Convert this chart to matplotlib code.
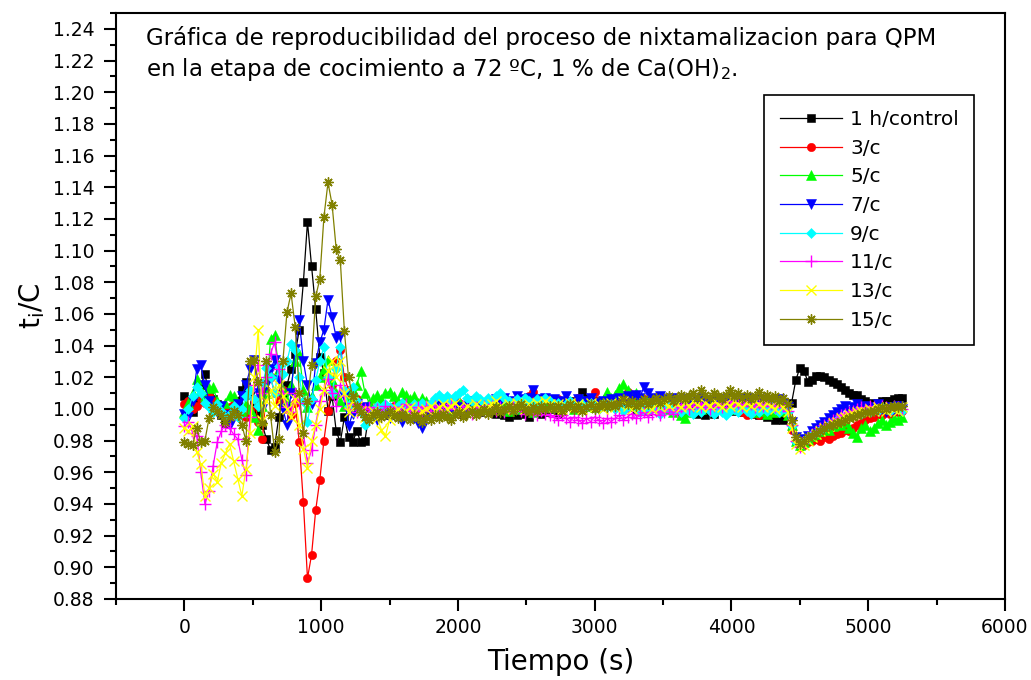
import numpy as np
import matplotlib
matplotlib.use("Agg")
import matplotlib.pyplot as plt
from matplotlib.ticker import MultipleLocator

plt.rcParams['font.family'] = ['DejaVu Sans']
plt.rcParams['mathtext.fontset'] = 'dejavusans'

# sampling time (s): one reading every 30 s
tiempo = np.arange(0, 5260, 30)

control_1h = [
    1.008, 1.000, 0.998, 1.005, 1.015, 1.022, 1.010, 1.006, 1.003, 0.996,
    0.991, 0.998, 1.000, 1.005, 1.012, 1.017, 1.009, 1.003, 0.998, 0.990,
    0.981, 0.974, 0.976, 0.995, 1.010, 1.015, 1.025, 1.035, 1.050, 1.080,
    1.118, 1.090, 1.063, 1.033, 1.023, 0.999, 1.008, 0.986, 0.979, 0.995,
    0.982, 0.979, 0.986, 0.979, 0.980,
    0.997, 1.000, 0.998, 1.002, 0.999, 0.996, 1.001, 1.003, 0.999, 0.997, 1.000, 1.002, 0.998, 0.995, 0.999,
    1.001, 0.998, 1.000, 1.003, 1.001, 0.999, 1.002, 1.000, 0.997, 1.001, 1.003, 1.000, 0.998, 1.001, 1.002,
    0.999, 0.997, 1.000, 0.996, 0.995, 0.998, 0.996, 1.000, 0.997, 0.995, 0.999, 1.001, 0.997, 0.998, 1.000,
    1.002, 0.997, 1.000, 1.003, 1.005, 1.001, 1.004, 1.011, 1.006, 1.003, 1.005, 1.002, 1.004, 1.006, 1.003,
    1.004, 1.002, 1.005, 1.001, 1.003, 1.000, 1.004, 1.002, 0.999, 1.003, 1.001, 1.004, 1.002, 1.000, 1.003,
    1.001, 0.999, 1.002, 0.998, 1.000, 0.997, 0.999, 0.996, 1.000, 0.997, 1.001, 1.003, 1.000, 1.002, 0.999,
    1.001, 0.998, 1.000, 0.997, 0.999, 0.996, 0.998, 0.995, 0.997, 0.993, 0.995, 0.993, 0.996, 1.004, 1.018,
    1.026, 1.024, 1.017, 1.018, 1.021, 1.021, 1.020, 1.018, 1.017, 1.016, 1.014, 1.012, 1.010, 1.009, 1.009,
    1.006, 1.005, 1.004, 1.003, 1.004, 1.005, 1.005, 1.005, 1.006, 1.007, 1.007,
]

serie_3c = [
    1.003, 1.005, 1.000, 1.002, 1.006, 1.004, 1.008, 1.005, 1.002, 1.000,
    0.998, 1.001, 1.003, 0.999, 0.996, 0.995, 1.000, 1.006, 0.992, 0.981,
    1.012, 1.020, 1.010, 1.005, 1.012, 1.000, 0.996, 1.004, 0.979, 0.941,
    0.893, 0.908, 0.936, 0.955, 0.980, 0.999, 1.015, 1.030, 1.037, 1.020,
    1.012, 1.003, 1.006, 1.001, 0.999,
    1.002, 0.999, 1.001, 1.003, 0.998, 1.000, 1.002, 0.999, 0.997, 1.001, 1.003, 1.000, 0.998, 1.002, 1.000,
    0.999, 1.002, 1.000, 1.003, 1.001, 0.999, 1.002, 1.004, 1.001, 0.999, 1.002, 1.000, 1.003, 1.001, 1.004,
    1.002, 1.005, 1.003, 1.006, 1.004, 1.002, 1.005, 1.003, 1.006, 1.008, 1.011, 1.006, 1.003, 1.005, 1.002,
    1.004, 1.006, 1.003, 1.005, 1.002, 1.004, 1.007, 1.005, 1.003, 1.006, 1.011, 1.005, 1.003, 1.004, 1.002,
    1.005, 1.003, 1.006, 1.011, 1.005, 1.002, 1.004, 1.006, 1.003, 1.005, 1.002, 1.004, 1.006, 1.003, 1.005,
    1.003, 1.005, 1.002, 1.004, 1.001, 1.003, 1.005, 1.002, 1.004, 1.006, 1.003, 1.001, 1.004, 1.002, 1.000,
    0.999, 0.998, 0.996, 0.997, 0.999, 0.996, 0.998, 1.000, 0.998, 1.001, 0.999, 1.002, 0.997, 0.987, 0.979,
    0.976, 0.977, 0.979, 0.980, 0.981, 0.980, 0.982, 0.981, 0.983, 0.984, 0.985, 0.987, 0.986, 0.988, 0.990,
    0.991, 0.993, 0.994, 0.995, 0.997, 0.996, 0.998, 0.997, 0.999, 0.998, 0.999,
]

serie_5c = [
    0.998, 1.004, 1.010, 1.019, 1.012, 1.008, 1.013, 1.014, 1.005, 1.000,
    1.004, 1.009, 1.008, 1.002, 0.998, 1.003, 1.000, 0.995, 0.987, 1.002,
    1.010, 1.044, 1.047, 1.025, 1.012, 1.005, 1.015, 1.030, 1.035, 1.012,
    1.001, 1.008, 1.015, 1.020, 1.025, 1.031, 1.018, 1.010, 1.005, 1.002,
    1.008, 1.012, 1.015, 1.024, 1.010,
    1.004, 1.007, 1.009, 1.006, 1.010, 1.011, 1.008, 1.005, 1.011, 1.009, 1.006, 1.008, 1.004, 1.007, 1.005,
    1.003, 1.000, 1.002, 1.004, 1.001, 0.999, 1.003, 1.005, 1.002, 1.000, 1.003, 1.001, 1.004, 1.002, 1.000,
    1.002, 1.004, 1.001, 1.003, 0.999, 1.002, 1.000, 1.003, 1.005, 1.001, 0.998, 1.002, 1.004, 1.001, 1.003,
    1.001, 1.004, 1.002, 1.005, 1.003, 1.000, 1.004, 1.006, 1.002, 1.004, 1.001, 1.005, 1.003, 1.011, 1.007,
    1.009, 1.013, 1.016, 1.012, 1.008, 1.010, 1.006, 1.004, 1.007, 1.003, 1.005, 1.002, 1.004, 1.000, 0.998,
    1.000, 0.996, 0.994, 0.998, 1.001, 1.003, 1.000, 1.002, 1.004, 1.001, 1.003, 1.005, 1.002, 1.000, 1.003,
    1.004, 1.001, 1.003, 1.000, 0.998, 1.001, 0.999, 0.997, 1.000, 0.998, 1.001, 0.999, 0.996, 0.990, 0.980,
    0.977, 0.979, 0.981, 0.983, 0.984, 0.986, 0.988, 0.987, 0.989, 0.991, 0.990, 0.992, 0.988, 0.985, 0.982,
    0.988, 0.990, 0.986, 0.988, 0.991, 0.993, 0.990, 0.992, 0.994, 0.993, 0.995,
]

serie_7c = [
    0.997, 0.995, 1.005, 1.025, 1.028, 1.015, 1.005, 1.001, 0.998, 1.002,
    0.996, 0.990, 0.997, 1.003, 1.008, 1.015, 1.025, 1.031, 1.010, 1.000,
    1.015, 1.025, 1.031, 1.018, 1.000, 0.990, 1.010, 1.038, 1.056, 1.030,
    1.015, 1.003, 1.029, 1.042, 1.050, 1.069, 1.058, 1.045, 1.046, 1.008,
    0.989, 0.997, 1.003, 0.998, 1.001,
    0.995, 0.998, 0.993, 0.996, 0.999, 0.994, 0.997, 0.995, 0.992, 0.996, 0.998, 0.994, 0.991, 0.988, 0.995,
    0.998, 1.001, 1.003, 0.999, 1.002, 1.000, 1.004, 1.001, 0.998, 1.002, 1.005, 1.003, 1.000, 1.002, 1.004,
    1.003, 1.006, 1.004, 1.007, 1.005, 1.003, 1.008, 1.006, 1.004, 1.007, 1.012, 1.006, 1.004, 1.007, 1.005,
    1.006, 1.003, 1.005, 1.008, 1.004, 1.002, 1.006, 1.003, 1.005, 1.007, 1.004, 1.002, 1.005, 1.003, 1.006,
    1.004, 1.007, 1.005, 1.008, 1.006, 1.009, 1.007, 1.014, 1.010, 1.007, 1.005, 1.008, 1.006, 1.004, 1.007,
    1.005, 1.003, 1.006, 1.004, 1.002, 1.005, 1.007, 1.004, 1.002, 1.005, 1.003, 1.006, 1.004, 1.007, 1.005,
    1.006, 1.004, 1.007, 1.005, 1.003, 1.006, 1.004, 1.002, 1.005, 1.003, 1.006, 1.004, 1.001, 0.992, 0.982,
    0.978, 0.981, 0.983, 0.986, 0.988, 0.990, 0.992, 0.994, 0.996, 0.998, 1.000, 1.002, 0.999, 1.001, 1.003,
    1.000, 1.002, 0.999, 1.001, 1.003, 1.000, 0.998, 1.001, 0.999, 1.002, 1.000,
]

serie_9c = [
    0.994, 1.000, 1.008, 1.014, 1.010, 1.004, 1.001, 0.998, 1.003, 0.999,
    0.995, 0.997, 1.002, 0.995, 1.000, 1.008, 1.012, 1.006, 1.002, 1.015,
    1.026, 1.020, 1.010, 1.027, 1.022, 1.030, 1.041, 1.037, 1.020, 1.005,
    0.992, 1.006, 1.018, 1.030, 1.039, 1.020, 1.010, 1.025, 1.039, 1.012,
    1.002, 1.014, 1.005, 0.998, 0.990,
    0.994, 0.999, 1.002, 1.000, 1.003, 1.001, 0.998, 1.002, 1.004, 1.001, 0.999, 1.003, 1.001, 1.004, 1.002,
    1.004, 1.007, 1.009, 1.006, 1.008, 1.005, 1.008, 1.010, 1.012, 1.007, 1.005, 1.008, 1.006, 1.004, 1.007,
    1.005, 1.008, 1.010, 1.007, 1.005, 1.003, 1.006, 1.004, 1.007, 1.005, 1.003, 1.006, 1.004, 1.007, 1.005,
    1.002, 1.004, 1.001, 1.003, 1.005, 1.002, 1.000, 1.003, 1.001, 1.004, 1.002, 1.000, 1.003, 1.001, 1.003,
    1.000, 1.002, 0.999, 1.001, 1.003, 1.000, 0.998, 1.001, 0.999, 1.002, 1.000, 0.997, 1.000, 1.002, 0.999,
    1.000, 0.998, 1.001, 0.999, 0.997, 1.000, 0.998, 1.001, 0.999, 0.997, 1.000, 0.998, 0.996, 0.999, 1.000,
    0.998, 1.001, 0.999, 0.997, 1.000, 0.998, 1.001, 0.999, 1.002, 1.000, 0.998, 1.001, 0.998, 0.989, 0.979,
    0.977, 0.980, 0.982, 0.984, 0.985, 0.987, 0.988, 0.990, 0.991, 0.993, 0.994, 0.995, 0.996, 0.997, 0.998,
    0.997, 0.999, 0.998, 1.000, 0.999, 1.001, 1.000, 0.999, 1.001, 1.000, 0.999,
]

serie_11c = [
    0.989, 0.992, 0.985, 0.983, 0.960, 0.940, 0.948, 0.964, 0.979, 0.986,
    0.990, 0.988, 0.984, 0.981, 0.968, 0.958, 0.995, 1.015, 1.028, 1.010,
    1.020, 1.035, 1.042, 1.025, 1.010, 1.001, 0.998, 1.010, 1.004, 0.985,
    0.966, 0.974, 0.990, 1.005, 1.012, 1.019, 1.010, 1.002, 1.015, 1.008,
    1.000, 1.004, 0.998, 1.002, 1.000,
    1.001, 0.998, 1.000, 0.997, 1.002, 0.999, 1.001, 0.998, 1.000, 1.003, 0.999, 0.997, 1.001, 0.999, 1.002,
    0.999, 1.002, 1.000, 0.998, 1.001, 1.003, 1.000, 0.998, 1.002, 1.000, 0.997, 1.001, 0.999, 1.002, 1.000,
    1.002, 0.999, 1.001, 0.998, 1.000, 1.003, 1.001, 0.999, 0.997, 1.000, 0.998, 0.996, 0.999, 0.997, 0.996,
    0.995, 0.993, 0.996, 0.994, 0.992, 0.995, 0.993, 0.991, 0.994, 0.992, 0.995, 0.993, 0.991, 0.994, 0.992,
    0.994, 0.996, 0.993, 0.995, 0.997, 0.994, 0.996, 0.998, 0.995, 0.997, 0.999, 0.996, 0.998, 1.000, 0.997,
    0.999, 1.001, 1.003, 1.000, 1.002, 1.004, 1.001, 1.003, 1.000, 1.002, 1.004, 1.001, 1.003, 1.005, 1.002,
    1.004, 1.002, 1.005, 1.003, 1.001, 1.004, 1.002, 1.005, 1.003, 1.001, 1.004, 1.002, 0.999, 0.990, 0.980,
    0.976, 0.979, 0.982, 0.984, 0.986, 0.988, 0.990, 0.991, 0.993, 0.994, 0.996, 0.997, 0.998, 0.999, 1.000,
    1.001, 1.000, 1.002, 1.001, 1.000, 1.002, 1.001, 1.000, 1.002, 1.001, 1.000,
]

serie_13c = [
    0.988, 0.986, 0.989, 0.973, 0.965, 0.945, 0.950, 0.959, 0.954, 0.966,
    0.972, 0.978, 0.967, 0.956, 0.945, 0.962, 0.985, 1.020, 1.050, 0.993,
    1.005, 1.012, 1.002, 1.015, 1.008, 1.000, 0.995, 1.006, 0.990, 0.975,
    0.963, 0.980, 0.990, 1.000, 1.012, 1.024, 1.030, 1.020, 1.030, 1.010,
    0.998, 1.005, 1.002, 0.999, 0.995,
    0.996, 0.999, 0.994, 0.987, 0.983, 0.993, 0.998, 1.000, 0.997, 0.999, 1.001, 0.998, 0.996, 0.999, 1.000,
    1.002, 0.999, 1.001, 1.003, 1.000, 1.002, 1.004, 1.001, 0.999, 1.002, 1.000, 1.003, 1.001, 0.999, 1.002,
    1.003, 1.005, 1.002, 1.000, 1.003, 1.001, 1.004, 1.002, 1.000, 1.003, 1.001, 1.004, 1.002, 1.005, 1.003,
    1.001, 1.003, 1.000, 1.002, 1.004, 1.001, 1.003, 1.000, 1.002, 1.004, 1.001, 1.003, 1.000, 1.002, 1.004,
    1.001, 1.003, 1.005, 1.002, 1.000, 1.003, 1.001, 1.004, 1.002, 1.000, 1.003, 1.001, 1.004, 1.002, 1.005,
    1.003, 1.001, 1.004, 1.002, 1.005, 1.003, 1.001, 1.004, 1.002, 1.005, 1.003, 1.001, 1.004, 1.002, 1.005,
    1.003, 1.001, 1.004, 1.002, 1.005, 1.003, 1.001, 1.004, 1.002, 1.000, 1.003, 1.001, 0.998, 0.988, 0.978,
    0.975, 0.977, 0.980, 0.982, 0.984, 0.986, 0.988, 0.989, 0.991, 0.992, 0.994, 0.995, 0.996, 0.997, 0.998,
    0.999, 0.998, 1.000, 0.999, 1.001, 1.000, 0.999, 1.001, 1.000, 0.999, 1.001,
]

serie_15c = [
    0.979, 0.978, 0.977, 0.988, 0.979, 0.980, 0.994, 1.001, 0.999, 0.996,
    0.992, 0.995, 0.999, 0.996, 0.990, 0.980, 1.030, 1.031, 1.017, 0.991,
    1.030, 0.996, 0.973, 0.981, 1.030, 1.061, 1.073, 1.052, 1.010, 0.985,
    1.005, 1.028, 1.071, 1.082, 1.121, 1.143, 1.129, 1.101, 1.094, 1.049,
    1.020, 1.008, 1.002, 0.998, 0.995,
    0.993, 0.996, 0.998, 0.995, 0.997, 0.999, 0.996, 0.994, 0.997, 0.995, 0.993, 0.996, 0.994, 0.992, 0.995,
    0.993, 0.996, 0.994, 0.997, 0.995, 0.993, 0.996, 0.998, 0.995, 0.997, 0.999, 0.996, 0.998, 1.000, 0.997,
    0.999, 1.001, 0.998, 1.000, 1.002, 0.999, 1.001, 1.003, 1.000, 0.998, 1.001, 0.999, 1.002, 1.000, 1.002,
    1.000, 1.002, 0.999, 1.001, 1.003, 1.000, 1.002, 0.999, 1.001, 1.003, 1.000, 1.002, 1.004, 1.001, 1.003,
    1.002, 1.004, 1.006, 1.003, 1.005, 1.002, 1.004, 1.006, 1.003, 1.005, 1.007, 1.004, 1.006, 1.008, 1.005,
    1.007, 1.009, 1.006, 1.008, 1.010, 1.007, 1.012, 1.009, 1.007, 1.010, 1.008, 1.006, 1.009, 1.012, 1.008,
    1.010, 1.007, 1.009, 1.006, 1.008, 1.011, 1.007, 1.009, 1.006, 1.008, 1.005, 1.007, 1.003, 0.993, 0.982,
    0.978, 0.980, 0.982, 0.983, 0.985, 0.986, 0.988, 0.989, 0.990, 0.991, 0.992, 0.993, 0.994, 0.995, 0.996,
    0.997, 0.998, 0.998, 0.999, 1.000, 1.001, 1.000, 1.001, 1.002, 1.001, 1.002,
]

etiquetas = ["1 h/control", "3/c", "5/c", "7/c", "9/c", "11/c", "13/c", "15/c"]
series = [control_1h, serie_3c, serie_5c, serie_7c, serie_9c, serie_11c, serie_13c, serie_15c]
colores = ["#000000", "#FF0000", "#00FF00", "#0000FF", "#00FFFF", "#FF00FF", "#FFFF00", "#808000"]
marcadores = ["s", "o", "^", "v", "D", "+", "x", (8, 2, 0)]
tamanos = [6.0, 6.0, 7.0, 7.0, 5.4, 8.0, 7.0, 7.2]

fig = plt.figure(figsize=(10.31, 6.80), dpi=100)
ax = fig.add_axes([116 / 1031, 81 / 680, 889 / 1031, 586 / 680])

for y, lab, c, m, s in zip(series, etiquetas, colores, marcadores, tamanos):
    n = min(len(y), len(tiempo))
    lineal = m in ("+", "x") or isinstance(m, tuple)
    ax.plot(tiempo[:n], y[:n], color=c, marker=m, markersize=s, linewidth=0.9,
            markeredgewidth=1.0 if lineal else 0.4,
            markeredgecolor=c, label=lab)

ax.set_xlim(-500, 6000)
ax.set_ylim(0.88, 1.25)
ax.xaxis.set_major_locator(MultipleLocator(1000))
ax.xaxis.set_minor_locator(MultipleLocator(500))
ax.yaxis.set_major_locator(MultipleLocator(0.02))
ax.yaxis.set_minor_locator(MultipleLocator(0.01))
ax.yaxis.set_major_formatter(matplotlib.ticker.FormatStrFormatter('%.2f'))

for sp in ax.spines.values():
    sp.set_linewidth(1.5)
ax.tick_params(which='both', direction='out', top=False, right=False, width=1.5)
ax.tick_params(which='major', length=8.5, labelsize=13.5)
ax.tick_params(axis='y', which='major', pad=7)
ax.tick_params(axis='x', which='major', pad=5)
ax.tick_params(which='minor', length=4.5)

ax.set_xlabel("Tiempo (s)", fontsize=20, labelpad=8)
ax.set_ylabel(r"t$_\mathrm{i}$/C", fontsize=20, labelpad=4)

ax.text(0.034, 0.977,
        "Gráfica de reproducibilidad del proceso de nixtamalizacion para QPM\n"
        "en la etapa de cocimiento a 72 ºC, 1 % de Ca(OH)$_2$.",
        transform=ax.transAxes, ha='left', va='top', fontsize=16.5, linespacing=1.3)

leg = ax.legend(loc='upper right', bbox_to_anchor=(0.965, 0.86), borderaxespad=0,
                fontsize=14.5, numpoints=1, handlelength=3.1, handletextpad=0.4,
                labelspacing=0.48, borderpad=0.75, fancybox=False, framealpha=1,
                edgecolor='black')
leg.get_frame().set_linewidth(1.2)

fig.savefig("out.png", dpi=100)
